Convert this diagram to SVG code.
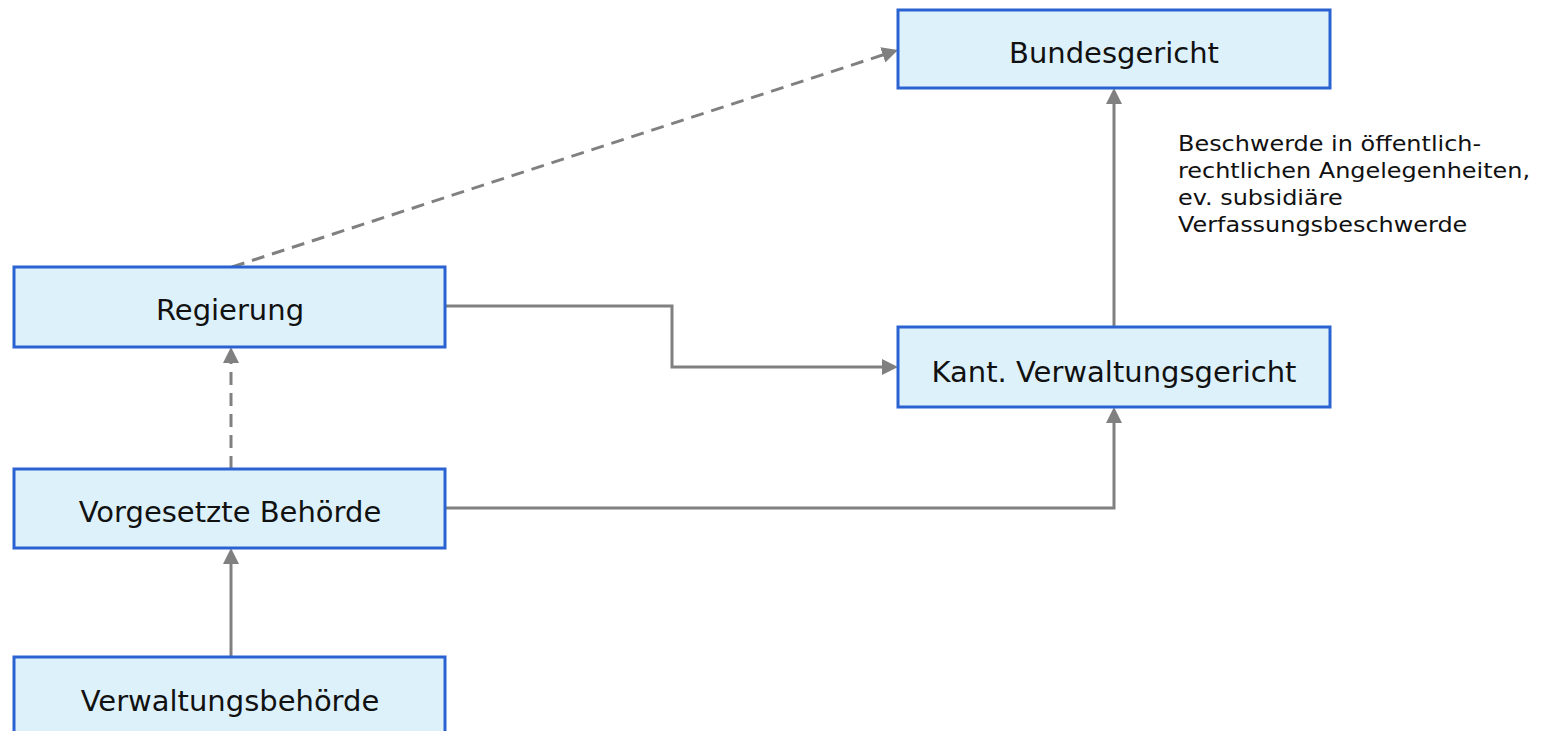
<svg xmlns="http://www.w3.org/2000/svg" width="1545" height="731" viewBox="0 0 1545 731">
<defs>
<style>
.box{fill:#ddf1fb;stroke:#2b62d2;stroke-width:3}
.lbl{font-family:"DejaVu Sans","Verdana",sans-serif;font-size:29px;fill:#111;text-anchor:middle}
.note{font-family:"DejaVu Sans","Verdana",sans-serif;font-size:21px;fill:#111}
.con{fill:none;stroke:#808080;stroke-width:3}
.dash{stroke-dasharray:13 8}
</style>
<marker id="arr" markerUnits="userSpaceOnUse" markerWidth="16" markerHeight="16" viewBox="0 0 16 16" refX="6" refY="8" orient="auto">
<path d="M0,0 L16,8 L0,16 z" fill="#808080"/>
</marker>
</defs>
<rect width="1545" height="731" fill="#ffffff"/>
<g id="connectors">
<path class="con" d="M231,657 V558" marker-end="url(#arr)"/>
<path class="con dash" d="M231,469 V357" marker-end="url(#arr)"/>
<path class="con" d="M445,306 H672 V367 H888" marker-end="url(#arr)"/>
<path class="con" d="M445,508 H1114 V417" marker-end="url(#arr)"/>
<path class="con" d="M1114,327 V98" marker-end="url(#arr)"/>
<path class="con dash" d="M232,267 L888.5,53.1" marker-end="url(#arr)"/>
</g>
<g id="node-bundesgericht">
<rect class="box" x="898" y="10" width="432" height="78"/>
<text class="lbl" x="1114" y="63">Bundesgericht</text>
</g>
<g id="node-regierung">
<rect class="box" x="14" y="267" width="431" height="80"/>
<text class="lbl" x="230" y="320">Regierung</text>
</g>
<g id="node-kant">
<rect class="box" x="898" y="327" width="432" height="80"/>
<text class="lbl" x="1114" y="382">Kant. Verwaltungsgericht</text>
</g>
<g id="node-vorgesetzte">
<rect class="box" x="14" y="469" width="431" height="79"/>
<text class="lbl" x="230" y="522">Vorgesetzte Behörde</text>
</g>
<g id="node-verwaltungsbehoerde">
<rect class="box" x="14" y="657" width="431" height="80"/>
<text class="lbl" x="230" y="711">Verwaltungsbehörde</text>
</g>
<g id="label-beschwerde" transform="translate(1178,0) scale(1.14,1)">
<text class="note" x="0" y="151">Beschwerde in öffentlich-</text>
<text class="note" x="0" y="178">rechtlichen Angelegenheiten,</text>
<text class="note" x="0" y="205">ev. subsidiäre</text>
<text class="note" x="0" y="232">Verfassungsbeschwerde</text>
</g>
</svg>
